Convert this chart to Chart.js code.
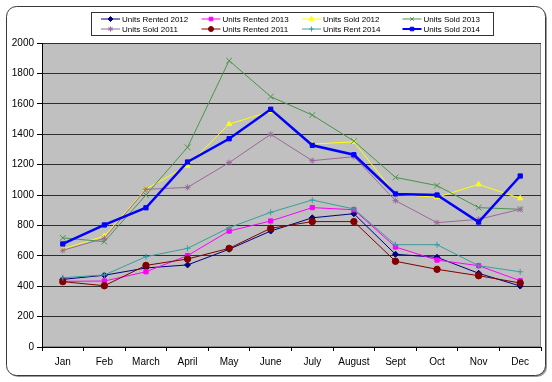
<!DOCTYPE html>
<html>
<head>
<meta charset="utf-8">
<script src="https://cdn.jsdelivr.net/npm/chart.js@4/dist/chart.umd.min.js"></script>
<style>
  html, body { margin: 0; padding: 0; background: #ffffff; }
  #wrap { width: 552px; height: 382px; position: relative; }
</style>
</head>
<body>
<div id="wrap"><canvas id="c" width="552" height="382"></canvas></div>
<script>
const months = ["Jan","Feb","March","April","May","June","July","August","Sept","Oct","Nov","Dec"];
const yTicks = [0,200,400,600,800,1000,1200,1400,1600,1800,2000];

const unitsRented2012 = [445, 472, 520, 540, 643, 763, 850, 877, 610, 590, 485, 401];
const unitsRented2013 = [432, 434, 495, 601, 763, 829, 917, 903, 658, 572, 535, 436];
const unitsSold2012   = [645, 730, 1040, 1193, 1467, 1550, 1335, 1350, 1005, 985, 1070, 978];
const unitsSold2013   = [718, 693, 1000, 1314, 1884, 1647, 1526, 1355, 1116, 1062, 917, 906];
const unitsSold2011   = [636, 715, 1037, 1050, 1213, 1399, 1226, 1252, 963, 818, 840, 906];
const unitsRented2011 = [430, 403, 537, 579, 649, 781, 825, 825, 564, 511, 469, 421];
const unitsRent2014   = [456, 474, 594, 649, 785, 886, 967, 908, 673, 673, 535, 495];
const unitsSold2014   = [678, 803, 916, 1217, 1370, 1564, 1327, 1265, 1007, 1000, 822, 1125];

const seriesNames = ["Units Rented 2012","Units Rented 2013","Units Sold 2012","Units Sold 2013",
                     "Units Sold 2011","Units Rented 2011","Units Rent 2014","Units Sold 2014"];
const seriesData = [unitsRented2012, unitsRented2013, unitsSold2012, unitsSold2013,
                    unitsSold2011, unitsRented2011, unitsRent2014, unitsSold2014];
const seriesColors = ["#000080","#FF00FF","#FFFF00","#4A944A","#9A6A9A","#800000","#3A9E9E","#0000FF"];
const seriesPoints = ["rectRot","rect","triangle","crossRot","star","circle","cross","rect"];
const seriesRadius = [3, 3, 3, 4, 3, 3.2, 3, 3];
const seriesWidth  = [1, 1, 1, 1, 1, 1, 1, 2.5];

const FONT = "'Liberation Sans', Arial, sans-serif";

const datasets = seriesNames.map((name, i) => ({
  label: name,
  data: seriesData[i],
  borderColor: seriesColors[i],
  backgroundColor: seriesColors[i],
  pointBackgroundColor: seriesColors[i],
  pointBorderColor: seriesColors[i],
  borderWidth: seriesWidth[i],
  pointStyle: seriesPoints[i],
  pointRadius: seriesRadius[i],
  pointBorderWidth: 1,
  tension: 0,
  fill: false,
  order: seriesNames.length - i
}));

const framePlugin = {
  id: 'frame',
  beforeDraw(chart) {
    const ctx = chart.ctx;
    ctx.save();
    ctx.fillStyle = '#ffffff';
    ctx.fillRect(0, 0, chart.width, chart.height);
    // shadow
    ctx.fillStyle = '#9a9a9a';
    ctx.beginPath();
    ctx.roundRect(8, 8, 539, 369, 10);
    ctx.fill();
    ctx.fillStyle = '#ffffff';
    ctx.strokeStyle = '#3a3a3a';
    ctx.lineWidth = 1;
    ctx.beginPath();
    ctx.roundRect(6.5, 6.5, 539, 369, 10);
    ctx.fill();
    ctx.stroke();
    // plot background
    const a = chart.chartArea;
    ctx.fillStyle = '#C0C0C0';
    ctx.fillRect(a.left, a.top, a.right - a.left, a.bottom - a.top);
    ctx.strokeStyle = '#8a8a8a';
    ctx.strokeRect(a.left + 0.5, a.top + 0.5, a.right - a.left - 1, a.bottom - a.top - 1);
    ctx.restore();
  },
  afterDraw(chart) {
    const ctx = chart.ctx;
    ctx.save();
    ctx.fillStyle = '#ffffff';
    ctx.strokeStyle = '#333333';
    ctx.lineWidth = 1;
    ctx.fillRect(91.5, 12.5, 402, 23);
    ctx.strokeRect(91.5, 12.5, 402, 23);
    ctx.font = "8px " + FONT;
    ctx.textBaseline = 'middle';
    ctx.textAlign = 'left';
    seriesNames.forEach((name, i) => {
      const col = i % 4, row = Math.floor(i / 4);
      const x0 = 101 + col * 100.5;
      const y = 19 + row * 10;
      ctx.strokeStyle = seriesColors[i];
      ctx.lineWidth = seriesWidth[i] > 1 ? 2 : 1;
      ctx.beginPath();
      ctx.moveTo(x0, y);
      ctx.lineTo(x0 + 19, y);
      ctx.stroke();
      ctx.fillStyle = seriesColors[i];
      ctx.lineWidth = 1;
      Chart.helpers.drawPoint(ctx, {pointStyle: seriesPoints[i], radius: 2.5, rotation: 0, borderWidth: 1}, x0 + 9.5, y);
      ctx.fillStyle = '#000000';
      ctx.fillText(name, x0 + 21, y + 0.5);
    });
    ctx.restore();
  }
};

new Chart(document.getElementById('c'), {
  type: 'line',
  data: { labels: months, datasets: datasets },
  options: {
    responsive: false,
    animation: false,
    devicePixelRatio: 1,
    layout: { padding: { top: 43, right: 11, left: 0, bottom: 0 } },
    plugins: {
      legend: { display: false },
      tooltip: { enabled: false },
      title: { display: false }
    },
    scales: {
      x: {
        type: 'category',
        offset: true,
        grid: { display: true, drawOnChartArea: false, drawTicks: true, tickLength: 4, offset: true, color: '#000000' },
        border: { display: true, color: '#000000', width: 1 },
        ticks: { font: { family: FONT, size: 10 }, color: '#000000', padding: 5, maxRotation: 0, autoSkip: false },
        afterFit(scale) { scale.height = 35; }
      },
      y: {
        min: 0,
        max: 2000,
        afterBuildTicks(scale) { scale.ticks = yTicks.map(v => ({ value: v })); },
        grid: { color: '#2e2e2e', lineWidth: 1, drawTicks: true, tickLength: 5, tickColor: '#000000' },
        border: { display: true, color: '#000000', width: 1 },
        ticks: { font: { family: FONT, size: 10 }, color: '#000000', padding: 3, callback: (v) => String(v) },
        afterFit(scale) { scale.width = 42; }
      }
    }
  },
  plugins: [framePlugin]
});
</script>
</body>
</html>
